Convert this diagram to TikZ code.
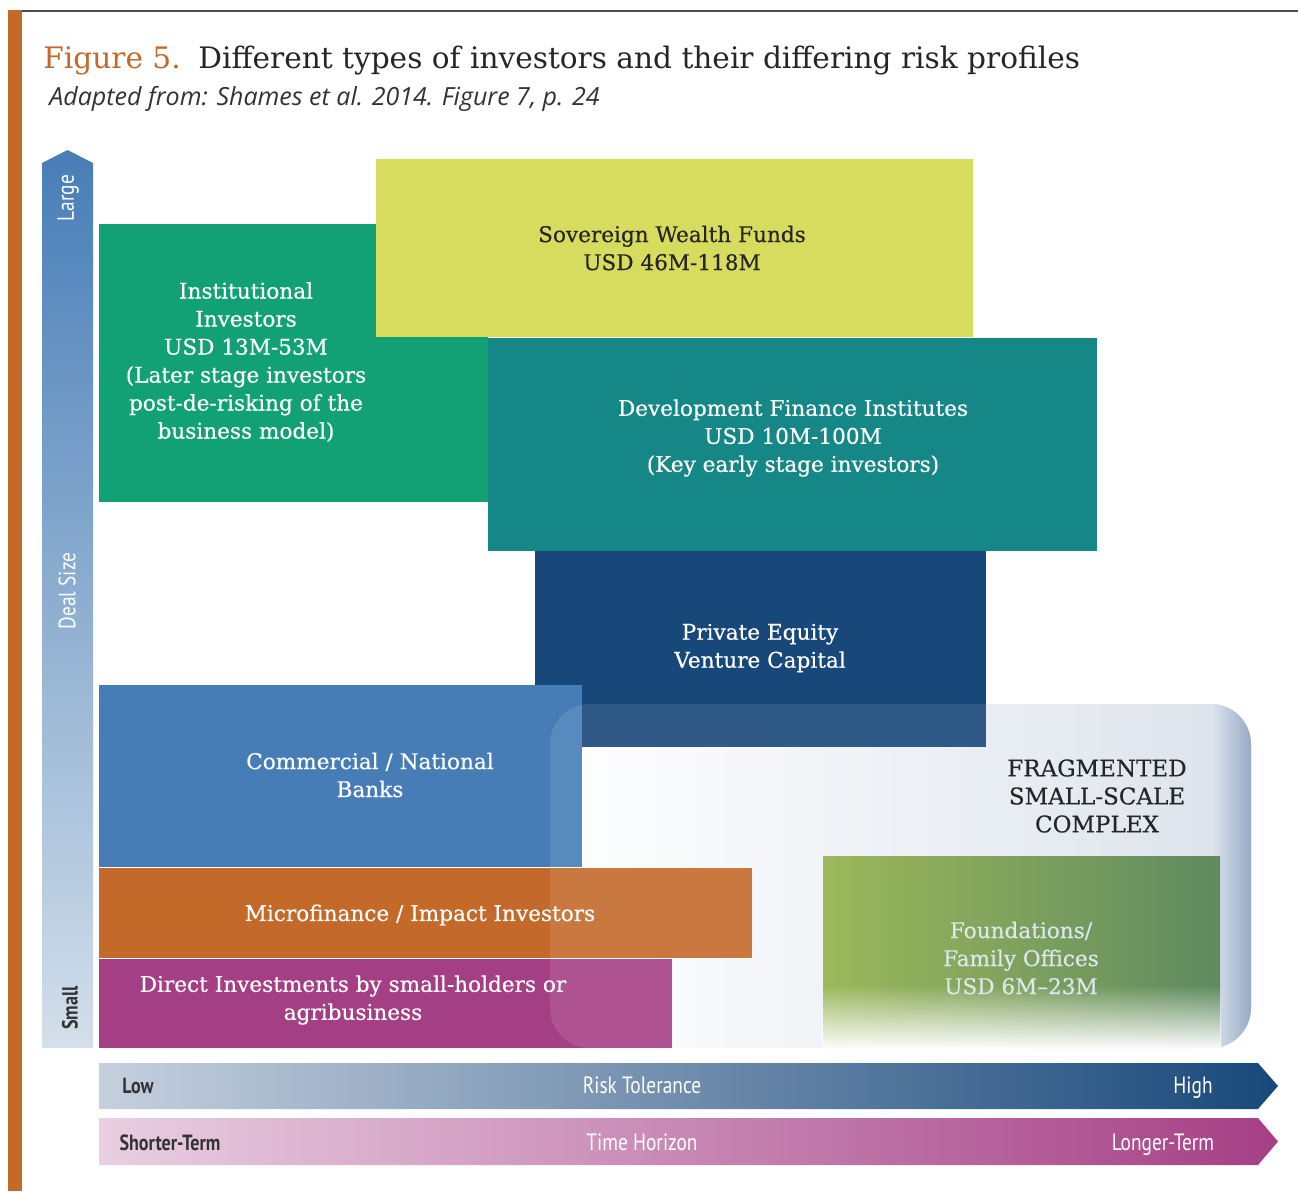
\documentclass[tikz,border=0pt]{standalone}
\usepackage{fontspec}
\usepackage{tikz}
\usetikzlibrary{positioning,fadings}

\newfontfamily\slabfont[FakeBold=0.4]{DejaVu Serif}
\newfontfamily\titlefont{DejaVu Serif}
\newfontfamily\condfont[FakeStretch=0.82]{PT Sans}
\newfontfamily\notefont{Open Sans}

\definecolor{frameorange}{HTML}{C3692A}
\definecolor{swfcol}{HTML}{D8DC5E}
\definecolor{instcol}{HTML}{12A075}
\definecolor{dficol}{HTML}{168787}
\definecolor{pecol}{HTML}{18487A}
\definecolor{bankcol}{HTML}{477DB7}
\definecolor{microcol}{HTML}{C3692A}
\definecolor{directcol}{HTML}{A53F85}
\definecolor{foundleft}{HTML}{9CB85A}
\definecolor{foundright}{HTML}{5F8A60}
\definecolor{fragright}{HTML}{D9E1EB}
\definecolor{fragedge}{HTML}{8AA0C0}

\begin{document}
\begin{tikzpicture}[x=0.5pt,y=-0.5pt,
		boxtext/.style={align=center,text=white,font=\slabfont\fontsize{10.8}{14}\selectfont},
		axistext/.style={anchor=base,font=\condfont\fontsize{11.8}{13}\selectfont,text=white},
		axisend/.style={anchor=base,font=\condfont\bfseries\fontsize{11}{13}\selectfont,text=black!80},
		fragshape/.style={rounded corners=20pt}]
			\useasboundingbox (0,0) rectangle (1298,1191);
			
			% frame and title
			\fill[frameorange] (8,10) rectangle (22,1191);
			\draw[black!70,line width=1pt] (22,10.5) -- (1298,10.5);
			\node[anchor=base west,text=frameorange,font=\titlefont\fontsize{14.8}{18}\selectfont,inner sep=0pt] (fignum) at (43,68) {Figure 5.};
			\node[anchor=base west,text=black!85,font=\titlefont\fontsize{14.8}{18}\selectfont,inner sep=0pt] (title) at (198,68) {Different types of investors and their differing risk profiles};
			\node[anchor=base west,text=black!80,font=\notefont\itshape\fontsize{12.5}{14}\selectfont,inner sep=0pt] (source) at (49,105) {Adapted from: Shames et al. 2014. Figure 7, p. 24};
			
			% deal size axis
			\shade[top color=bankcol,middle color={rgb,255:red,136;green,170;blue,208},bottom color={rgb,255:red,211;green,223;blue,234}]
				(42,1048) -- (42,163) -- (67.5,150) -- (93,163) -- (93,1048) -- cycle;
			\node[axistext,anchor=center,rotate=90] (large) at (68,198) {Large};
			\node[axistext,anchor=center,rotate=90] (dealsize) at (67,591) {Deal Size};
			\node[axisend,anchor=center,rotate=90] (small) at (70,1008) {Small};
			
			% fragmented region, underneath
			\shade[fragshape,left color=white,right color=fragright] (550,704) rectangle (1251,1048);
			\begin{scope}
				\clip[fragshape] (550,704) rectangle (1251,1048);
				\shade[left color=fragright,right color=fragedge] (1212,704) rectangle (1251.5,1048);
			\end{scope}
			
			% investor boxes
			\fill[instcol] (99,224) rectangle (488,502);
			\fill[swfcol] (376,159) rectangle (973,337);
			\fill[dficol] (488,338) rectangle (1097,551);
			\fill[pecol] (535,551) rectangle (986,747);
			\fill[bankcol] (99,685) rectangle (582,867);
			\fill[microcol] (99,868) rectangle (752,958);
			\fill[directcol] (99,959) rectangle (672,1048);
			
			% fragmented region, veil on top
			\fill[fragshape,white,fill opacity=0.1] (550,704) rectangle (1251,1048);
			
			\shade[left color=foundleft,right color=foundright] (823,856) rectangle (1220,1048);
			\fill[white,path fading=north] (822,985) rectangle (1221,1050);
			
			\node[boxtext,text=black!85] (swf) at (672,248) {Sovereign Wealth Funds\\USD 46M-118M};
			\node[boxtext] (inst) at (246,362) {Institutional\\Investors\\USD 13M-53M\\(Later stage investors\\post-de-risking of the\\business model)};
			\node[boxtext] (dfi) at (793,438) {Development Finance Institutes\\USD 10M-100M\\(Key early stage investors)};
			\node[boxtext] (pevc) at (760,648) {Private Equity\\Venture Capital};
			\node[boxtext] (banks) at (370,775) {Commercial / National\\Banks};
			\node[boxtext] (micro) at (420,915) {Microfinance / Impact Investors};
			\node[boxtext] (direct) at (353,1000) {Direct Investments by small-holders or\\agribusiness};
			\node[boxtext,text=black!85,font=\slabfont\fontsize{11.5}{14}\selectfont] (frag) at (1097,796) {FRAGMENTED\\SMALL-SCALE\\COMPLEX};
			\node[boxtext,text={rgb,255:red,222;green,230;blue,238}] (found) at (1021,958) {Foundations/\\Family Offices\\USD 6M–23M};
			
			% risk and time axes
			\shade[left color={rgb,255:red,197;green,208;blue,222},right color=pecol]
				(99,1063) -- (1258,1063) -- (1278,1086) -- (1258,1109) -- (99,1109) -- cycle;
			\shade[left color={rgb,255:red,233;green,207;blue,226},right color=directcol]
				(99,1118) -- (1258,1118) -- (1278,1141.5) -- (1258,1165) -- (99,1165) -- cycle;
			\node[axisend] (low) at (138,1093) {Low};
			\node[axistext] (risk) at (642,1093) {Risk Tolerance};
			\node[axistext] (high) at (1193,1093) {High};
			\node[axisend] (shorter) at (170,1150) {Shorter-Term};
			\node[axistext] (time) at (642,1150) {Time Horizon};
			\node[axistext] (longer) at (1163,1150) {Longer-Term};
		\end{tikzpicture}
\end{document}
